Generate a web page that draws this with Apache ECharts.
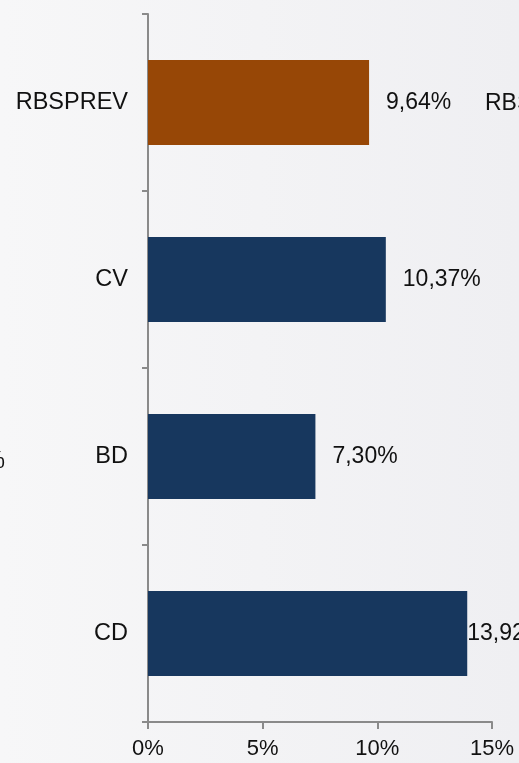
<!DOCTYPE html>
<html>
<head>
<meta charset="utf-8">
<script src="https://cdn.jsdelivr.net/npm/echarts@6/dist/echarts.min.js"></script>
<style>
  html,body{margin:0;padding:0;}
  #chart{width:519px;height:763px;background:linear-gradient(to right,#f7f7f8,#efeff2);}
</style>
</head>
<body>
<div id="chart"></div>
<script>
  // dados do gráfico
  var categorias = ['RBSPREV', 'CV', 'BD', 'CD'];
  var valores = [9.64, 10.37, 7.30, 13.92];
  var cores = ['#974706', '#17375e', '#17375e', '#17375e'];
  var ticksX = [0, 5, 10, 15];

  var chart = echarts.init(document.getElementById('chart'));

  function fmt(v) {
    return v.toFixed(2).replace('.', ',') + '%';
  }

  var dados = valores.map(function (v, i) {
    var item = { value: v, itemStyle: { color: cores[i] } };
    // o rótulo do CD fica colado na barra
    if (categorias[i] === 'CD') item.label = { distance: 0 };
    return item;
  });

  var fonte = 'Liberation Sans, Arial, sans-serif';

  var option = {
    animation: false,
    textStyle: { fontFamily: fonte },
    grid: { left: 148, right: 27, top: 14, bottom: 41 },
    xAxis: {
      type: 'value',
      min: ticksX[0],
      max: ticksX[ticksX.length - 1],
      interval: 5,
      axisLine: { show: true, lineStyle: { color: '#8a8a8a', width: 2 } },
      axisTick: { show: true, length: 7, lineStyle: { color: '#8a8a8a', width: 2 } },
      splitLine: { show: false },
      axisLabel: {
        color: '#111', fontSize: 22, margin: 16,
        formatter: function (v) { return v + '%'; }
      }
    },
    yAxis: {
      type: 'category',
      data: categorias,
      inverse: true,
      axisLine: { show: true, lineStyle: { color: '#8a8a8a', width: 2 } },
      axisTick: { show: true, length: 6, lineStyle: { color: '#8a8a8a', width: 2 } },
      axisLabel: { color: '#111', fontSize: 23.5, margin: 20, padding: [4, 0, 0, 0] }
    },
    series: [{
      type: 'bar',
      data: dados,
      barWidth: '48%',
      label: {
        show: true,
        position: 'right',
        distance: 17,
        color: '#111',
        fontSize: 23,
        padding: [4, 0, 0, 0],
        formatter: function (p) { return fmt(p.value); }
      }
    }],
    graphic: [
      // pedaços dos gráficos vizinhos, cortados nas bordas
      { type: 'text', left: 485, top: 92, style: { text: 'RBSPREV', fontSize: 23, fill: '#111', fontFamily: fonte } },
      { type: 'text', right: 514, top: 450, style: { text: '7,30%', fontSize: 23, fill: '#111', fontFamily: fonte } }
    ]
  };

  chart.setOption(option);
</script>
</body>
</html>
